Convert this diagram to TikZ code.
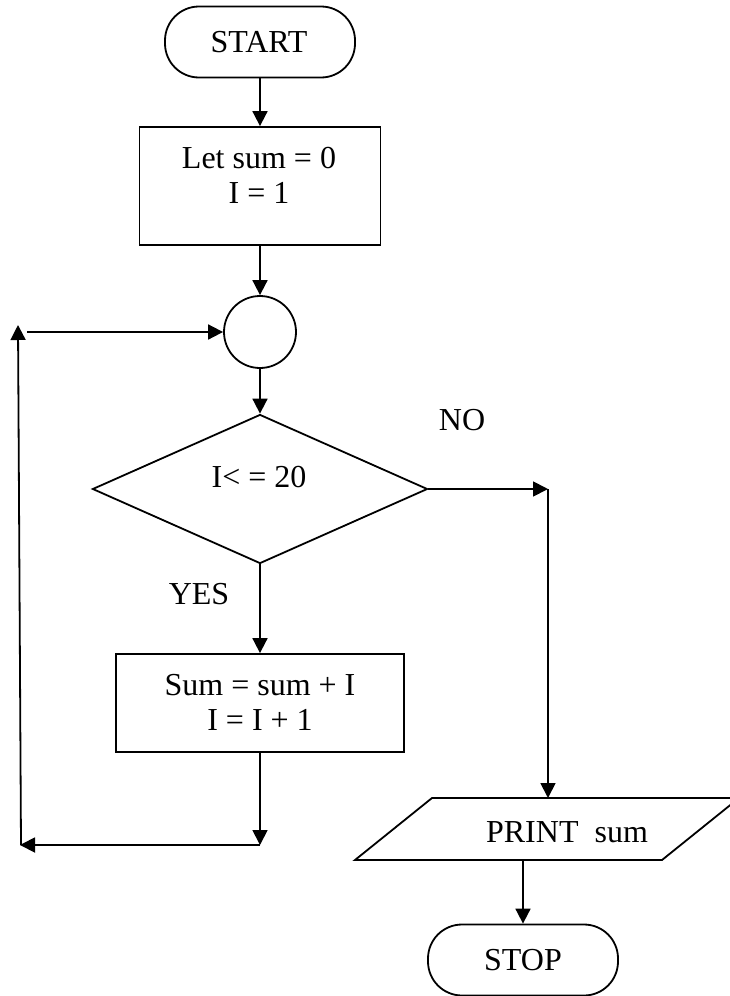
\documentclass[tikz,border=0pt]{standalone}
\usepackage{fontspec}
\setmainfont{Liberation Serif}
\usetikzlibrary{arrows.meta,shapes.geometric}
\begin{document}
\begin{tikzpicture}[x=1pt,y=-1pt,
  line width=1.8pt,
  every node/.style={font=\fontsize{32}{35}\selectfont},
  arr/.style={-{Triangle[length=15pt,width=15pt]}},
  term/.style={draw,rectangle,rounded corners=34pt,minimum width=190pt,minimum height=71pt,inner sep=0pt},
  procbox/.style={draw,rectangle,inner sep=0pt},
  txt/.style={inner sep=0pt,align=center}
]
\useasboundingbox (0,0) rectangle (730,996);
\clip (0,0) rectangle (730,996);

\node[term] (start) at (260,42) {};
\node[txt] (startt) at (259,42) {START};

\node[procbox,minimum width=241pt,minimum height=118pt] (init) at (260,186) {};
\node[txt] (initt) at (259,175) {Let sum = 0\\I = 1};

\node[draw,circle,minimum size=72pt,inner sep=0pt] (conn) at (260,332) {};

\node[draw,diamond,minimum width=335pt,minimum height=149pt,inner sep=0pt] (dec) at (260,489) {};
\node[txt] (dect) at (259,477) {I< = 20};

\node[txt] (no) at (462,420) {NO};
\node[txt] (yes) at (199,594) {YES};

\node[procbox,minimum width=288pt,minimum height=98pt] (upd) at (260,703) {};
\node[txt] (updt) at (260,702) {Sum = sum + I\\I = I + 1};

\coordinate (ptl) at (432,798);
\coordinate (ptr) at (739,798);
\coordinate (pbr) at (662,860);
\coordinate (pbl) at (355,860);
\draw (ptl) -- (ptr) -- (pbr) -- (pbl) -- cycle;
\node[txt] (print) at (567,832) {PRINT\ \ sum};
\coordinate (ptop) at (548,798);
\coordinate (pbot) at (523,860);

\node[term] (stop) at (523,960) {};
\node[txt] (stopt) at (523,960) {STOP};

\coordinate (nocorner) at (548,489);
\coordinate (loopR) at (260,845);
\coordinate (loopL) at (20,845);
\coordinate (loopB) at (21,845);
\coordinate (loopT) at (18,325);
\coordinate (loopH) at (27,332);

\draw[arr] (start.south) -- (init.north);
\draw[arr] (init.south) -- (conn.north);
\draw[arr] (conn.south) -- (dec.north);
\draw[arr] (dec.east) -- (nocorner);
\draw[arr] (nocorner) -- (ptop);
\draw[arr] (dec.south) -- (upd.north);
\draw[arr] (upd.south) -- (loopR);
\draw[arr] (loopR) -- (loopL);
\draw[arr] (loopB) -- (loopT);
\draw[arr] (loopH) -- (conn.west);
\draw[arr] (pbot) -- (stop.north);
\end{tikzpicture}
\end{document}
